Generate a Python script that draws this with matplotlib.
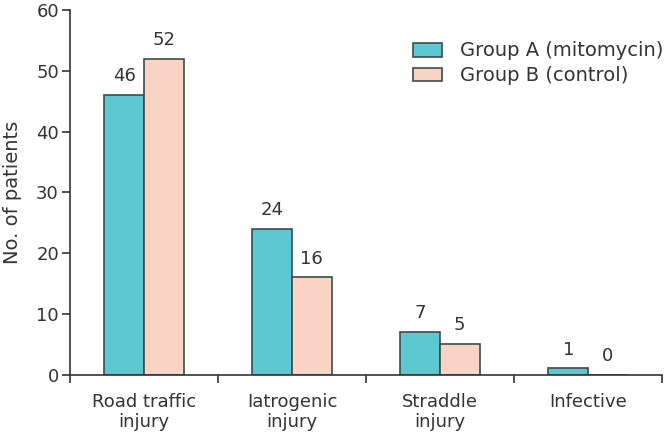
import matplotlib
matplotlib.use("Agg")
import matplotlib.pyplot as plt
import numpy as np

categories = ["Road traffic\ninjury", "Iatrogenic\ninjury", "Straddle\ninjury", "Infective"]
group_a = [46, 24, 7, 1]
group_b = [52, 16, 5, 0]
series_names = ["Group A (mitomycin)", "Group B (control)"]
yticks = [0, 10, 20, 30, 40, 50, 60]

plt.rcParams['font.family'] = ['DejaVu Sans']
fs = 13
txt = '#333333'
fig = plt.figure(figsize=(6.64, 4.36), dpi=100)
ax = fig.add_axes([70/664, (436-374.5)/436, (662-70)/664, (374.5-10)/436])

x = np.arange(len(categories))
w = 0.267
ca = '#5BC8D2'
cb = '#F9D3C3'
ec = '#3f4a4c'
ba = ax.bar(x - w/2, group_a, w, color=ca, edgecolor=ec, linewidth=1.2, label=series_names[0])
bb = ax.bar(x + w/2, group_b, w, color=cb, edgecolor=ec, linewidth=1.2, label=series_names[1])

for bars, vals in ((ba, group_a), (bb, group_b)):
    for r, v in zip(bars, vals):
        ax.annotate(str(v), (r.get_x() + r.get_width()/2, v), xytext=(0, 7),
                    textcoords='offset points', ha='center', va='bottom',
                    fontsize=fs, color=txt)

ax.set_xlim(-0.5, len(categories) - 0.5)
ax.set_ylim(0, 60)
ax.set_yticks(yticks)
ax.set_xticks(x)
ax.set_xticklabels(categories, fontsize=fs, color=txt, linespacing=1.2)
ax.set_xticks(np.arange(-0.5, len(categories)), minor=True)
ax.tick_params(axis='x', which='major', length=0, pad=13)
ax.tick_params(axis='x', which='minor', length=6, width=1.2, color=txt)
ax.tick_params(axis='y', length=6, width=1.2, color=txt, labelsize=fs, labelcolor=txt, pad=2)
for s in ['top', 'right']:
    ax.spines[s].set_visible(False)
for s in ['left', 'bottom']:
    ax.spines[s].set_color(txt)
    ax.spines[s].set_linewidth(1.2)
ax.set_ylabel("No. of patients", fontsize=14, color=txt, labelpad=10)

leg = ax.legend(loc='upper right', bbox_to_anchor=(1.015, 0.935), frameon=False, fontsize=14,
                handlelength=1.5, handleheight=0.72, handletextpad=0.9, labelspacing=0.3,
                borderaxespad=0.0)
for t in leg.get_texts():
    t.set_color(txt)

fig.savefig("out.png", dpi=100)
